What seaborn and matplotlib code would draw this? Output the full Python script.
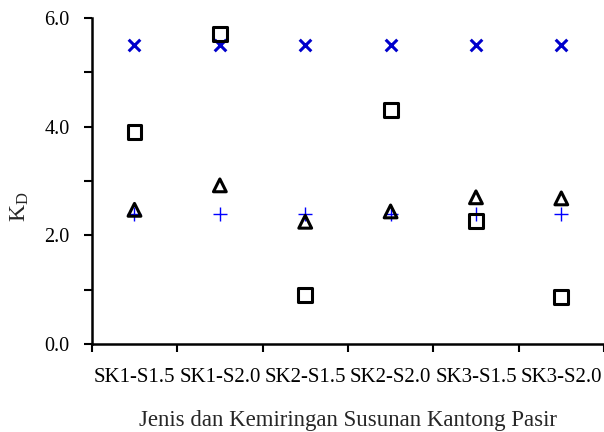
import matplotlib
matplotlib.use("Agg")
import matplotlib.pyplot as plt
import seaborn as sns
import pandas as pd
from matplotlib.ticker import MultipleLocator, FixedLocator

categories = ["SK1-S1.5", "SK1-S2.0", "SK2-S1.5", "SK2-S2.0", "SK3-S1.5", "SK3-S2.0"]
square_vals = [3.90, 5.71, 0.90, 4.31, 2.26, 0.87]
triangle_vals = [2.47, 2.92, 2.25, 2.44, 2.70, 2.68]
cross_vals = [5.5, 5.5, 5.5, 5.5, 5.5, 5.5]
plus_vals = [2.4, 2.4, 2.4, 2.4, 2.4, 2.4]

sns.set_theme(style="ticks")
plt.rcParams['font.family'] = ['Liberation Serif', 'DejaVu Serif']
plt.rcParams['mathtext.fontset'] = 'custom'
plt.rcParams['mathtext.rm'] = 'Liberation Serif'
plt.rcParams['mathtext.it'] = 'Liberation Serif'

fig = plt.figure(figsize=(6.04, 4.32), dpi=100)
ax = fig.add_axes([0.152, 0.2037, 0.848, 0.7546])

df = pd.DataFrame({"cat": categories, "sq": square_vals, "tri": triangle_vals,
                   "x": cross_vals, "p": plus_vals})

sns.scatterplot(data=df, x="cat", y="x", marker="x", s=70, color="#0000CC",
                linewidth=2.2, ax=ax, zorder=3)
sns.scatterplot(data=df, x="cat", y="p", marker="+", s=110, color="#0000FF",
                linewidth=1.0, ax=ax, zorder=4)
sns.scatterplot(data=df, x="cat", y="sq", marker="s", s=100, facecolor="none",
                edgecolor="black", linewidth=2.2, ax=ax, zorder=5)
sns.scatterplot(data=df, x="cat", y="tri", marker="^", s=85, facecolor="none",
                edgecolor="black", linewidth=2.2, ax=ax, zorder=5)

ax.set_xlim(-0.5, 5.5)
ax.set_ylim(0, 6.0)
ax.yaxis.set_major_locator(MultipleLocator(2.0))
ax.yaxis.set_minor_locator(MultipleLocator(1.0))
ax.set_yticklabels([f"{v:.1f}" for v in ax.get_yticks()])
ax.set_xticks(range(len(categories)))
ax.set_xticklabels(categories)
ax.xaxis.set_minor_locator(FixedLocator([i - 0.5 for i in range(len(categories) + 1)]))
ax.tick_params(axis="x", which="major", length=0, pad=17, labelsize=15, colors="black")
ax.tick_params(axis="x", which="minor", length=6, width=1.5, color="black")
ax.tick_params(axis="y", which="major", length=6, width=1.5, labelsize=14.5, pad=10, colors="black")
ax.tick_params(axis="y", which="minor", length=6, width=1.5, color="black")

for s in ["top", "right"]:
    ax.spines[s].set_visible(False)
for s in ["left", "bottom"]:
    ax.spines[s].set_linewidth(1.8)
    ax.spines[s].set_color("black")

ax.set_xlabel("Jenis dan Kemiringan Susunan Kantong Pasir", fontsize=16.5, labelpad=17)
ax.set_ylabel(r"K$_{\mathrm{D}}$", fontsize=17)
ax.yaxis.set_label_coords(-0.118, 0.42)

fig.savefig("out.png", dpi=100, facecolor="white")
